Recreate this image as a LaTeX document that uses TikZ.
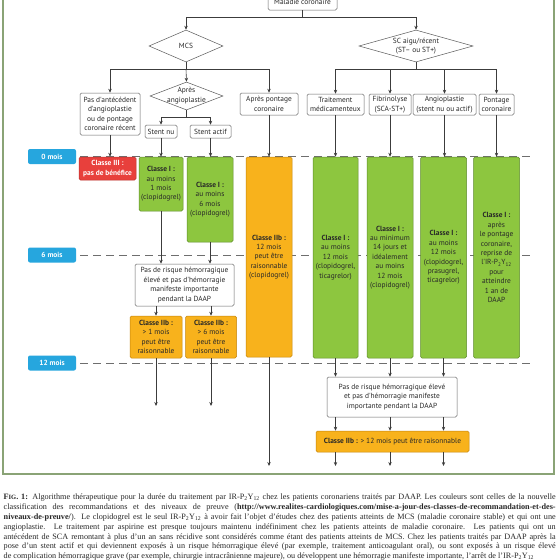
\documentclass[tikz,border=0pt]{standalone}
\usepackage{fontspec}
\setmainfont{Liberation Serif}
\newfontfamily\diag{PT Sans}
\usetikzlibrary{shapes.geometric,arrows.meta}
\definecolor{frameg}{RGB}{138,163,118}
\definecolor{lgreen}{RGB}{141,198,63}
\definecolor{dgreen}{RGB}{95,140,45}
\definecolor{orng}{RGB}{248,178,28}
\definecolor{dorng}{RGB}{196,132,12}
\definecolor{redb}{RGB}{232,64,60}
\definecolor{blueb}{RGB}{38,166,222}
\definecolor{txt}{RGB}{40,40,40}
\definecolor{linec}{RGB}{60,60,60}
\definecolor{dashc}{RGB}{110,110,110}
\begin{document}
\begin{tikzpicture}[x=1pt,y=-1pt,
  font=\diag\fontsize{7.4}{9.4}\selectfont,
  base/.style={rectangle, rounded corners=1.5pt, inner sep=0pt, align=center, text=txt},
  wbox/.style={base, draw=gray!80!black, fill=white, line width=0.5pt},
  gbox/.style={base, draw=dgreen, fill=lgreen, line width=0.5pt},
  obox/.style={base, draw=dorng, fill=orng, line width=0.5pt},
  rbox/.style={base, draw=redb!80!black, fill=redb, text=white, line width=0.5pt},
  tbox/.style={base, rounded corners=2pt, fill=blueb, text=white, font=\diag\bfseries\fontsize{7.4}{9}\selectfont},
  dia/.style={diamond, draw=gray!70!black, fill=white, inner sep=0pt, line width=0.5pt},
  dtext/.style={align=center, text=txt, inner sep=0pt},
  conn/.style={draw=linec, line width=0.6pt},
  arr/.style={conn, -{Stealth[length=4pt,width=3.4pt]}},
  timeline/.style={draw=dashc, line width=0.7pt, dash pattern=on 8pt off 5pt},
]
\useasboundingbox (0,0) rectangle (560,560);
\fill[white] (0,0) rectangle (560,560);
% frame
\draw[frameg, line width=1.8pt] (3,-10) rectangle (554,474);

% time labels and dashed lines
\node[tbox, minimum width=48pt, minimum height=15pt] (m0) at (52,156.5) {0 mois};
\node[tbox, minimum width=48pt, minimum height=15pt] (m6) at (52,255) {6 mois};
\node[tbox, minimum width=48pt, minimum height=15pt] (m12) at (52,363) {12 mois};
\draw[timeline] ([xshift=4pt]m0.east) -- ++(450,0);
\draw[timeline] ([xshift=4pt]m6.east) -- ++(450,0);
\draw[timeline] ([xshift=4pt]m12.east) -- ++(452,0);

% top
\node[wbox, minimum width=69pt, minimum height=16pt] (top) at (302.5,2) {Maladie coronaire};
\node[dia, minimum width=74pt, minimum height=32pt] (mcs) at (186,46) {};
\node[dtext] (mcsT) at (mcs) {MCS};
\node[dia, minimum width=114pt, minimum height=32pt] (sc) at (416,46) {};
\node[dtext] (scT) at (sc) {SC aigu/récent\\(ST– ou ST+)};

% MCS branch
\node[wbox, minimum width=60pt, minimum height=42pt] (pasant) at (110,114) {Pas d'antécédent\\d'angioplastie\\ou de pontage\\coronaire récent};
\node[dia, minimum width=73pt, minimum height=28pt] (apres) at (186.5,96) {};
\node[dtext] (apresT) at (186.5,95.5) {Après\\angioplastie};
\node[wbox, minimum width=58pt, minimum height=22pt] (apontage) at (269,104) {Après pontage\\coronaire};
\node[wbox, minimum width=32pt, minimum height=13pt] (stentnu) at (161,131.5) {Stent nu};
\node[wbox, minimum width=41pt, minimum height=13pt] (stentactif) at (210.5,131.5) {Stent actif};

% SC branch
\node[wbox, minimum width=57pt, minimum height=21pt] (trait) at (335.5,104.5) {Traitement\\médicamenteux};
\node[wbox, minimum width=42pt, minimum height=21pt] (fibri) at (390,104.5) {Fibrinolyse\\(SCA-ST+)};
\node[wbox, minimum width=63pt, minimum height=21pt] (angio) at (444.5,104.5) {Angioplastie\\(stent nu ou actif)};
\node[wbox, minimum width=35pt, minimum height=21pt] (pontage) at (496.5,104.5) {Pontage\\coronaire};

% class boxes
\node[rbox, minimum width=57pt, minimum height=23pt] (red) at (107.5,168.5) {\textbf{Classe III :}\\\textbf{pas de bénéfice}};
\node[gbox, minimum width=44pt, minimum height=54pt] (g1) at (161,184) {\textbf{Classe I :}\\au moins\\1 mois\\(clopidogrel)};
\node[gbox, minimum width=46pt, minimum height=85pt] (g6) at (210,199.5) {\textbf{Classe I :}\\au moins\\6 mois\\(clopidogrel)};
\node[obox, minimum width=46pt, minimum height=200pt] (o12) at (269,257) {\textbf{Classe IIb :}\\12 mois\\peut être\\raisonnable\\(clopidogrel)};
\node[gbox, minimum width=45pt, minimum height=201pt] (gr1) at (335.5,257.5) {\textbf{Classe I :}\\au moins\\12 mois\\(clopidogrel,\\ticagrelor)};
\node[gbox, minimum width=46pt, minimum height=201pt] (gr2) at (390,257.5) {\textbf{Classe I :}\\au minimum\\14 jours et\\idéalement\\au moins\\12 mois\\(clopidogrel)};
\node[gbox, minimum width=46pt, minimum height=201pt] (gr3) at (443.5,257.5) {\textbf{Classe I :}\\au moins\\12 mois\\(clopidogrel,\\prasugrel,\\ticagrelor)};
\node[gbox, minimum width=46pt, minimum height=201pt] (gr4) at (496.5,257.5) {\textbf{Classe I :}\\après\\le pontage\\coronaire,\\reprise de\\l'IR-P\textsubscript{2}Y\textsubscript{12}\\pour\\atteindre\\1 an de\\DAAP};

\node[wbox, minimum width=99pt, minimum height=42pt] (pdrL) at (184.5,285) {Pas de risque hémorragique\\élevé et pas d'hémorragie\\manifeste importante\\pendant la DAAP};
\node[obox, minimum width=52pt, minimum height=42pt] (ob1) at (156,337) {\textbf{Classe IIb :}\\> 1 mois\\peut être\\raisonnable};
\node[obox, minimum width=51pt, minimum height=42pt] (ob6) at (211,337) {\textbf{Classe IIb :}\\> 6 mois\\peut être\\raisonnable};

\node[wbox, minimum width=130pt, minimum height=40pt] (pdrR) at (392,397) {Pas de risque hémorragique élevé\\et pas d'hémorragie manifeste\\importante pendant la DAAP};
\node[obox, minimum width=153pt, minimum height=21pt] (oW) at (392.5,441.5) {\textbf{Classe IIb :} > 12 mois peut être raisonnable};

\coordinate (endL) at (0,406);
\coordinate (endM) at (0,466);

% connectors
\draw[conn] (top.south) -- ++(0,7) coordinate (j1);
\draw[arr] (j1) -| (mcs.north);
\draw[arr] (j1) -| (sc.north);
\draw[conn] (mcs.south) -- ++(0,7) coordinate (j2);
\draw[arr] (j2) -| (pasant.north);
\draw[arr] (j2) -- (apres.north);
\draw[arr] (j2) -| (apontage.north);
\draw[conn] (apres.south) -- ++(0,7) coordinate (j3);
\draw[arr] (j3) -| (stentnu.north);
\draw[arr] (j3) -| (stentactif.north);
\draw[conn] (sc.south) -- ++(0,7) coordinate (j4);
\draw[arr] (j4) -| (trait.north);
\draw[arr] (j4) -| (fibri.north);
\draw[arr] (j4) -| (angio.north);
\draw[arr] (j4) -| (pontage.north);

\draw[arr] (pasant.south) -- (pasant.south |- red.north);
\draw[arr] (stentnu.south) -- (stentnu.south |- g1.north);
\draw[arr] (stentactif.south) -- (stentactif.south |- g6.north);
\draw[arr] (apontage.south) -- (apontage.south |- o12.north);
\draw[arr] (trait.south) -- (trait.south |- gr1.north);
\draw[arr] (fibri.south) -- (fibri.south |- gr2.north);
\draw[arr] (angio.south) -- (angio.south |- gr3.north);
\draw[arr] (pontage.south) -- (pontage.south |- gr4.north);

\draw[arr] (g1.south) -- (g1.south |- pdrL.north);
\draw[arr] (g6.south) -- (g6.south |- pdrL.north);
\draw[arr] (ob1.north |- pdrL.south) -- (ob1.north);
\draw[arr] (ob6.north |- pdrL.south) -- (ob6.north);
\draw[arr] (ob1.south) -- (ob1.south |- endL);
\draw[arr] (ob6.south) -- (ob6.south |- endL);
\draw[arr] (o12.south) -- (o12.south |- endM);

\draw[arr] (gr1.south) -- (gr1.south |- pdrR.north);
\draw[arr] (gr2.south) -- (gr2.south |- pdrR.north);
\draw[arr] (gr3.south) -- (gr3.south |- pdrR.north);
\draw[arr] (gr1.south |- pdrR.south) -- (gr1.south |- oW.north);
\draw[arr] (gr2.south |- pdrR.south) -- (gr2.south |- oW.north);
\draw[arr] (gr3.south |- pdrR.south) -- (gr3.south |- oW.north);
\draw[arr] (gr1.south |- oW.south) -- (gr1.south |- endM);
\draw[arr] (gr2.south |- oW.south) -- (gr2.south |- endM);
\draw[arr] (gr3.south |- oW.south) -- (gr3.south |- endM);

% caption
\node[anchor=north west, inner sep=0pt, text width=552pt, align=justify, text=txt,
  font=\rmfamily\fontsize{8.2}{9.9}\selectfont] (cap) at (3.5,493.5) {\parfillskip=0pt
{\bfseries F{\fontsize{6.5}{8}\selectfont IG}. 1:} Algorithme thérapeutique pour la durée du traitement par IR-P\textsubscript{2}Y\textsubscript{12} chez les patients coronariens traités par DAAP. Les couleurs sont celles de la nouvelle\linebreak
classification des recommandations et des niveaux de preuve (\textbf{http://www.realites-cardiologiques.com/mise-a-jour-des-classes-de-recommandation-et-des-}\linebreak
\textbf{niveaux-de-preuve/}). Le clopidogrel est le seul IR-P\textsubscript{2}Y\textsubscript{12} à avoir fait l'objet d'études chez des patients atteints de MCS (maladie coronaire stable) et qui ont une\linebreak
angioplastie. Le traitement par aspirine est presque toujours maintenu indéfiniment chez les patients atteints de maladie coronaire. Les patients qui ont un\linebreak
antécédent de SCA remontant à plus d'un an sans récidive sont considérés comme étant des patients atteints de MCS. Chez les patients traités par DAAP après la\linebreak
pose d'un stent actif et qui deviennent exposés à un risque hémorragique élevé (par exemple, traitement anticoagulant oral), ou sont exposés à un risque élevé\linebreak
de complication hémorragique grave (par exemple, chirurgie intracrânienne majeure), ou développent une hémorragie manifeste importante, l'arrêt de l'IR-P\textsubscript{2}Y\textsubscript{12}};
\end{tikzpicture}
\end{document}
